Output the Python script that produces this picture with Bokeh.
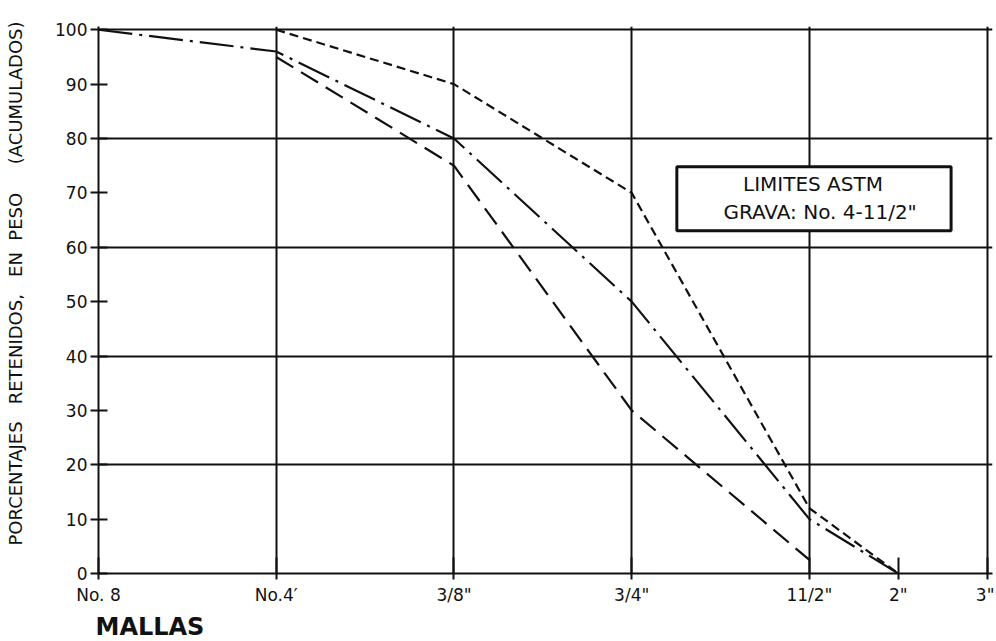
from bokeh.plotting import figure
from bokeh.models import Range1d, FixedTicker, Label, BoxAnnotation, Grid, Title
from bokeh.embed import file_html
from bokeh.resources import INLINE

# ---- data ----
sieve_labels = ["No. 8", "No.4\u2032", "3/8\"", "3/4\"", "11/2\"", "2\"", "3\""]
sieve_pos = [0, 1, 2, 3, 4, 4.5, 5]          # schematic position of each sieve on the chart
upper_limit = [None, 100, 90, 70, 12, 0, None]   # short dash
middle_curve = [100, 96, 80, 50, 10, 0, None]    # dash-dot
lower_limit = [None, 95, 75, 30, 2.5, None, None]  # long dash
y_ticks = [0, 10, 20, 30, 40, 50, 60, 70, 80, 90, 100]
y_grid = [20, 40, 60, 80, 100]

FONT = "DejaVu Sans"
INK = "#111111"
NB = "\u00a0"

p = figure(frame_width=894, frame_height=547, min_border_left=98, min_border_right=2,
           min_border_top=26, min_border_bottom=63,
           x_range=Range1d(0, 5.03), y_range=Range1d(0, 100.6),
           output_backend="svg", toolbar_location=None, tools="")
p.outline_line_color = None
p.background_fill_color = "white"
p.border_fill_color = "white"

p.xgrid.visible = False
p.ygrid.visible = False

xg = Grid(dimension=0, ticker=FixedTicker(ticks=sieve_pos[1:5] + [sieve_pos[6]]),
          grid_line_color=INK, grid_line_width=2)
yg = Grid(dimension=1, ticker=FixedTicker(ticks=y_grid),
          grid_line_color=INK, grid_line_width=2)
p.add_layout(xg)
p.add_layout(yg)

xa = p.xaxis[0]
xa.ticker = FixedTicker(ticks=sieve_pos)
xa.major_label_overrides = {pos: lab for pos, lab in zip(sieve_pos, sieve_labels)}
xa.axis_line_width = 2
xa.axis_line_color = INK
xa.major_tick_line_color = INK
xa.major_tick_line_width = 2
xa.major_tick_out = 6
xa.major_tick_in = 16
xa.minor_tick_line_color = None
xa.major_label_standoff = 5
xa.major_label_text_font = FONT
xa.major_label_text_font_size = "17px"
xa.major_label_text_color = INK

ya = p.yaxis[0]
ya.ticker = FixedTicker(ticks=y_ticks)
ya.axis_line_width = 2
ya.axis_line_color = INK
ya.major_tick_line_color = INK
ya.major_tick_line_width = 2
ya.major_tick_out = 8
ya.major_tick_in = 9
ya.minor_tick_line_color = None
ya.major_label_standoff = 3
ya.major_label_text_font = FONT
ya.major_label_text_font_size = "17px"
ya.major_label_text_color = INK
# invisible spacer so that the side title sits further out
ya.axis_label = NB
ya.axis_label_text_font_size = "2px"
ya.axis_label_standoff = 20


def series(vals):
    xs, ys = [], []
    for x, v in zip(sieve_pos, vals):
        if v is not None:
            xs.append(x)
            ys.append(v)
    return xs, ys


ux, uy = series(upper_limit)
mx, my = series(middle_curve)
lx, ly = series(lower_limit)

p.line(ux, uy, line_color=INK, line_width=2.2, line_dash="9 5")
p.line(mx, my, line_color=INK, line_width=2.2, line_dash="34 7 3 7")
p.line(lx, ly, line_color=INK, line_width=2.2, line_dash="20 9")

box = BoxAnnotation(left=3.254, right=4.797, top=74.8, bottom=63.05,
                    fill_color="white", fill_alpha=1.0,
                    line_color=INK, line_alpha=1.0, line_width=3)
p.add_layout(box)
p.add_layout(Label(x=4.02, y=71.7, text="LIMITES ASTM", text_align="center",
                   text_baseline="middle", text_font=FONT,
                   text_font_size="20px", text_color=INK))
p.add_layout(Label(x=4.06, y=66.4, text="GRAVA: No. 4-11/2\"", text_align="center",
                   text_baseline="middle", text_font=FONT,
                   text_font_size="20px", text_color=INK))

ytext = ("PORCENTAJES" + NB * 3 + "RETENIDOS," + NB * 3 + "EN" + NB * 2 + "PESO"
         + NB * 5 + "(ACUMULADOS)")
ytitle = Title(text=ytext, align="left", offset=28, standoff=2, text_font=FONT,
               text_font_size="18px", text_font_style="normal", text_color=INK)
p.add_layout(ytitle, "left")
xtitle = Title(text="MALLAS", align="left", offset=-3, standoff=6, text_font=FONT,
               text_font_size="24px", text_font_style="bold", text_color=INK)
p.add_layout(xtitle, "below")

open("out.html", "w").write(file_html(p, INLINE))
